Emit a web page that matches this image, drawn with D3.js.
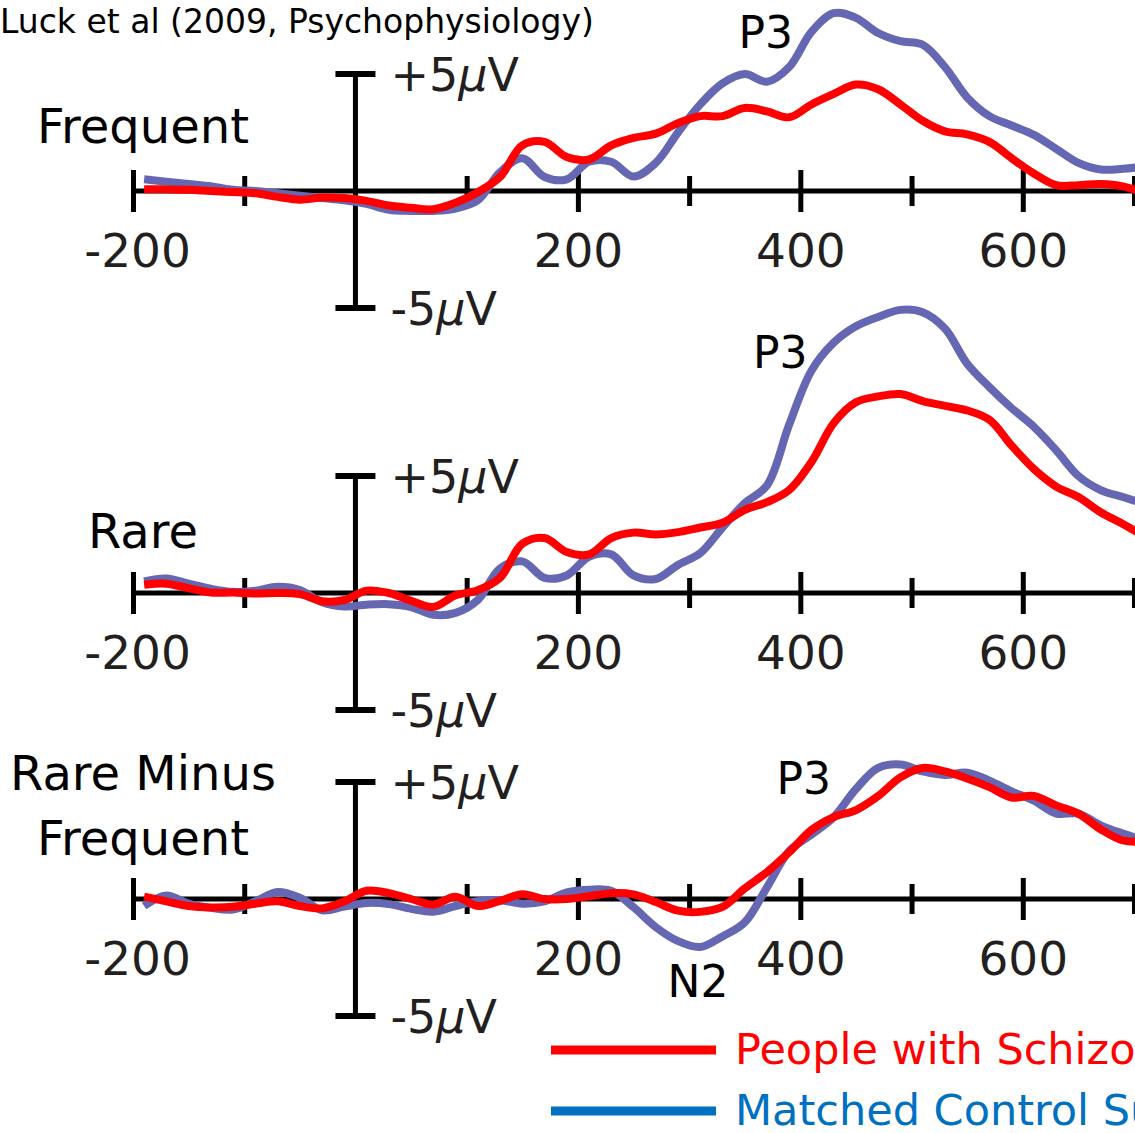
<!DOCTYPE html>
<html>
<head>
<meta charset="utf-8">
<script src="https://cdn.jsdelivr.net/npm/d3@7"></script>
<style>
  html, body { margin: 0; padding: 0; background: #fff; overflow: hidden; }
  svg { display: block; }
  text { font-family: "DejaVu Sans", "Noto Sans", sans-serif; }
</style>
</head>
<body>
<svg id="chart" width="1135" height="1133"></svg>
<script>
// Sample times (ms relative to stimulus onset)
const times = [-190, -170, -150, -130, -110, -90, -70, -50, -30, -10,
  10, 30, 50, 70, 90, 110, 130, 150, 170, 190,
  210, 230, 250, 270, 290, 310, 330, 350, 370, 390,
  410, 430, 450, 470, 490, 510, 530, 550, 570, 590,
  610, 630, 650, 670, 690, 710];

// Grand-average ERP amplitudes (µV)
const frequentControl = [0.5, 0.4, 0.3, 0.2, 0.05, 0.0, -0.1, -0.2, -0.3, -0.4,
  -0.55, -0.8, -0.85, -0.85, -0.75, -0.4, 0.8, 1.4, 0.6, 0.5,
  1.25, 1.25, 0.62, 1.2, 2.5, 3.7, 4.6, 5.0, 4.67, 5.3,
  6.8, 7.6, 7.4, 6.75, 6.4, 6.25, 5.3, 4.0, 3.2, 2.8,
  2.4, 1.8, 1.2, 0.92, 0.95, 1.05];
const frequentPatients = [0.08, 0.07, 0.05, 0.0, -0.04, -0.1, -0.25, -0.37, -0.28, -0.3,
  -0.42, -0.62, -0.72, -0.78, -0.5, -0.05, 0.6, 1.95, 2.1, 1.45,
  1.35, 1.95, 2.27, 2.45, 2.9, 3.2, 3.2, 3.55, 3.4, 3.15,
  3.7, 4.15, 4.55, 4.35, 3.7, 3.0, 2.55, 2.42, 2.1, 1.4,
  0.75, 0.25, 0.25, 0.3, 0.2, -0.1];
const rareControl = [0.5, 0.62, 0.4, 0.18, 0.05, 0.1, 0.27, 0.13, -0.4, -0.58,
  -0.5, -0.48, -0.6, -0.93, -0.85, -0.3, 1.05, 1.35, 0.65, 0.75,
  1.55, 1.65, 0.75, 0.6, 1.2, 1.7, 2.8, 3.84, 4.6, 7.2,
  9.5, 10.7, 11.4, 11.8, 12.1, 12.0, 11.3, 9.8, 8.8, 7.9,
  7.1, 6.1, 5.0, 4.4, 4.1, 3.8];
const rarePatients = [0.35, 0.4, 0.2, 0.02, 0.02, -0.02, 0.0, -0.05, -0.35, -0.3,
  0.1, 0.0, -0.33, -0.6, -0.1, 0.12, 0.65, 2.1, 2.35, 1.75,
  1.65, 2.35, 2.58, 2.5, 2.6, 2.8, 3.0, 3.55, 3.88, 4.4,
  5.6, 7.26, 8.15, 8.4, 8.5, 8.2, 8.0, 7.8, 7.4, 6.3,
  5.3, 4.55, 4.1, 3.45, 2.95, 2.4];
const diffControl = [-0.3, 0.15, -0.2, -0.38, -0.45, -0.1, 0.3, 0.05, -0.48, -0.32,
  -0.17, -0.22, -0.42, -0.54, -0.3, -0.1, -0.05, -0.2, -0.1, 0.28,
  0.4, 0.35, -0.35, -1.2, -1.8, -2.05, -1.6, -1.0, 0.5, 2.05,
  2.75, 3.5, 4.7, 5.6, 5.75, 5.45, 5.3, 5.4, 5.06, 4.6,
  4.2, 3.65, 3.65, 3.15, 2.8, 2.5];
const diffPatients = [0.1, -0.1, -0.3, -0.36, -0.33, -0.2, -0.1, -0.3, -0.4, -0.1,
  0.35, 0.25, 0.0, -0.24, 0.1, -0.3, -0.08, 0.2, 0.0, 0.0,
  0.12, 0.25, 0.2, -0.13, -0.5, -0.55, -0.34, 0.45, 1.15, 2.0,
  2.95, 3.5, 3.8, 4.4, 5.2, 5.6, 5.45, 5.15, 4.78, 4.34,
  4.4, 4.0, 3.65, 2.98, 2.5, 2.45];

// Axis ticks and labels
const xTicks = [-200, -100, 100, 200, 300, 400, 500, 600, 700, 800];
const xLabels = [-200, 200, 400, 600];
const voltLimits = [5, -5];

const panelNames = [["Frequent"], ["Rare"], ["Rare Minus", "Frequent"]];
const componentLabels = [
  [{ text: "P3", t: 369, v: 6.1 }],
  [{ text: "P3", t: 382, v: 9.6 }],
  [{ text: "P3", t: 403, v: 4.5 }, { text: "N2", t: 308, v: -4.2 }]
];
const groupNames = ["People with Schizophrenia", "Matched Control Subjects"];

const controlColor = "#6667b2";
const patientColor = "#ff0000";
const legendColors = ["#ff0000", "#0070c0"];

const svg = d3.select("#chart");

const x = d3.scaleLinear().domain([-200, 700]).range([133, 1134]);

const panels = [
  { base: 191, control: frequentControl, patients: frequentPatients, names: panelNames[0], labelY: [143], comps: componentLabels[0] },
  { base: 593, control: rareControl, patients: rarePatients, names: panelNames[1], labelY: [548], comps: componentLabels[1] },
  { base: 899, control: diffControl, patients: diffPatients, names: panelNames[2], labelY: [790, 855], comps: componentLabels[2] }
];

// Title
svg.append("text")
  .attr("x", 0).attr("y", 33)
  .attr("fill", "#000")
  .style("font-size", "33px")
  .text("Luck et al (2009, Psychophysiology)");

panels.forEach(p => {
  const y = d3.scaleLinear().domain([-5, 5]).range([p.base + 117, p.base - 117]);
  const g = svg.append("g");

  // Time axis with ticks on both sides of the line
  const axis = d3.axisBottom(x)
    .tickValues(xTicks)
    .tickSizeOuter(0)
    .tickFormat(d => xLabels.includes(d) ? String(d) : "");
  const ax = g.append("g")
    .attr("transform", `translate(0,${p.base})`)
    .call(axis);
  ax.select(".domain")
    .attr("d", `M${x(-200)},0H1135`)
    .attr("stroke", "#000").attr("stroke-width", 5);
  ax.selectAll(".tick line")
    .attr("stroke", "#000").attr("stroke-width", 5)
    .attr("y1", d => xLabels.includes(d) || d === 800 ? -21 : -15)
    .attr("y2", d => xLabels.includes(d) || d === 800 ? 21 : 15);
  ax.selectAll(".tick text")
    .attr("y", 76).attr("dy", 0)
    .attr("dx", d => d < 0 ? 4 : 0)
    .attr("fill", "#231f20")
    .style("font-family", "'DejaVu Sans', sans-serif")
    .style("font-size", "47px");

  // Voltage calibration bar at time zero
  const vx = x(0);
  g.append("line")
    .attr("x1", vx).attr("x2", vx)
    .attr("y1", y(5)).attr("y2", y(-5))
    .attr("stroke", "#000").attr("stroke-width", 5);
  voltLimits.forEach(v => {
    g.append("line")
      .attr("x1", vx - 20).attr("x2", vx + 20)
      .attr("y1", y(v)).attr("y2", y(v))
      .attr("stroke", "#000").attr("stroke-width", 6);
    const t = g.append("text")
      .attr("x", vx + 35).attr("y", y(v) + 17)
      .attr("fill", "#231f20")
      .style("font-size", "46px");
    t.append("tspan").text(v > 0 ? "+5" : "-5");
    t.append("tspan").style("font-style", "italic").text("µ");
    t.append("tspan").text("V");
  });

  // Waveforms: controls underneath, patients on top
  const line = d3.line()
    .x((d, i) => x(times[i]))
    .y(d => y(d))
    .curve(d3.curveCatmullRom.alpha(0.5));
  g.append("path")
    .datum(p.control)
    .attr("d", line)
    .attr("fill", "none")
    .attr("stroke", controlColor)
    .attr("stroke-width", 8)
    .attr("stroke-linejoin", "round");
  g.append("path")
    .datum(p.patients)
    .attr("d", line)
    .attr("fill", "none")
    .attr("stroke", patientColor)
    .attr("stroke-width", 8)
    .attr("stroke-linejoin", "round");

  // Panel name
  p.names.forEach((n, i) => {
    g.append("text")
      .attr("x", 143).attr("y", p.labelY[i])
      .attr("text-anchor", "middle")
      .attr("fill", "#000")
      .style("font-size", "48px")
      .text(n);
  });

  // Component labels
  p.comps.forEach(c => {
    g.append("text")
      .attr("x", x(c.t)).attr("y", y(c.v))
      .attr("text-anchor", "middle")
      .attr("fill", "#000")
      .style("font-size", "44px")
      .text(c.text);
  });
});

// Legend
const legendY = [1050, 1111];
groupNames.forEach((name, i) => {
  svg.append("line")
    .attr("x1", 551).attr("x2", 716)
    .attr("y1", legendY[i]).attr("y2", legendY[i])
    .attr("stroke", legendColors[i]).attr("stroke-width", 9);
  svg.append("text")
    .attr("x", 735).attr("y", legendY[i] + 14)
    .attr("fill", legendColors[i])
    .style("font-size", "43px")
    .text(name);
});
</script>
</body>
</html>
